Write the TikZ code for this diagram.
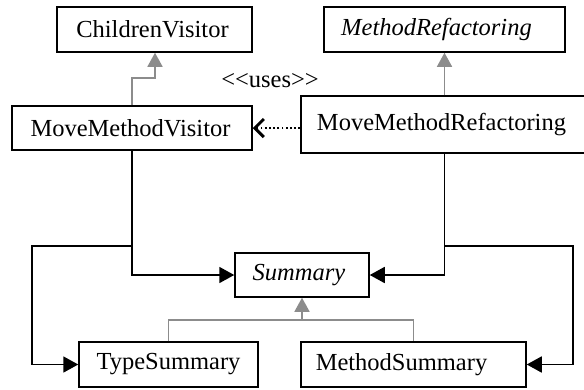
\documentclass[tikz,border=0pt]{standalone}
\usepackage{fontspec}
\setmainfont{Liberation Serif}
\usetikzlibrary{arrows.meta}
\definecolor{inhgray}{RGB}{140,140,140}
\tikzset{
  umlbox/.style={draw, line width=1.5pt, inner sep=0pt, font=\fontsize{24.5}{28}\selectfont},
  assoc/.style={line width=1.8pt, -{Triangle[length=15pt,width=16pt]}},
  inh/.style={line width=1.5pt, draw=inhgray, -{Triangle[length=14pt,width=15pt,fill=inhgray,color=inhgray]}},
  inhline/.style={line width=1.5pt, draw=inhgray},
  uses/.style={line width=2pt, dash pattern=on 1.8pt off 2.4pt, -{Straight Barb[length=9pt,width=18pt,line width=3pt]}}
}
\begin{document}
\begin{tikzpicture}[x=1pt,y=-1pt]
\useasboundingbox (0,0) rectangle (584,389);
\node[umlbox, minimum width=195pt, minimum height=45pt] (cv) at (154.5,29.5) {\hspace*{-4pt}ChildrenVisitor};
\node[umlbox, minimum width=241pt, minimum height=45pt] (mr) at (444.5,29.5) {\hspace*{-16pt}\textit{MethodRefactoring}};
\node[umlbox, minimum width=240pt, minimum height=44pt] (mmv) at (132,128) {\hspace*{-3pt}MoveMethodVisitor};
\node[umlbox, minimum width=292pt, minimum height=57pt] (mmr) at (447,124.5) {\hspace*{-11pt}MoveMethodRefactoring};
\node[umlbox, minimum width=134pt, minimum height=44pt] (sum) at (302,275) {\hspace*{-6pt}\textit{Summary}};
\node[umlbox, minimum width=179pt, minimum height=45pt] (ts) at (168.5,364.5) {TypeSummary};
\node[umlbox, minimum width=225pt, minimum height=45pt] (ms) at (413.5,364.5) {\hspace*{-24pt}MethodSummary};
\node[font=\fontsize{24.5}{28}\selectfont, inner sep=0pt] (lbl) at (270,81) {<{}<uses>{}>};
\coordinate (jl) at (32,246);
\coordinate (jr) at (573,246);
\coordinate (sj) at (302,320);
\coordinate (cvj) at (155,78);
% inheritance
\draw[inh] (mmv.north) |- (cvj) -- (cv.south -| cvj);
\draw[inh] (mr.south |- mmr.north) -- (mr.south);
\draw[inhline] (ts.north) |- (sj) -| (ms.north);
\draw[inh] (sj) -- (sum.south);
% uses
\draw[uses] (mmr.west |- mmv.east) -- (mmv.east);
% associations
\draw[assoc] (mmv.south) |- (sum.west);
\draw[assoc] (mr.south |- mmr.south) |- (sum.east);
\draw[assoc] (mmv.south) |- (jl) |- (ts.west);
\draw[assoc] (mr.south |- mmr.south) |- (jr) |- (ms.east);
\end{tikzpicture}
\end{document}
